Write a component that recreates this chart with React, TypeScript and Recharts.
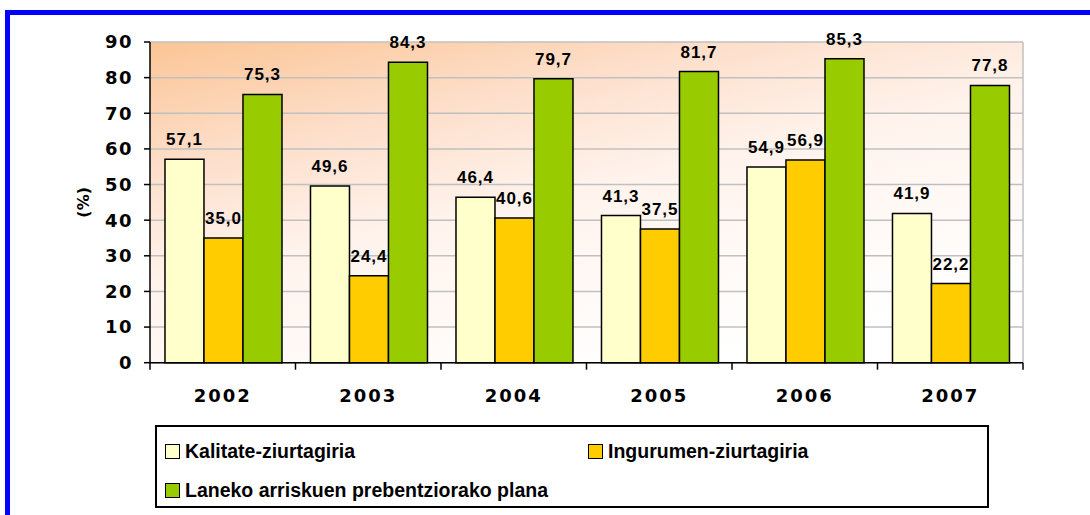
import React from 'react';
import {
  BarChart,
  Bar,
  XAxis,
  YAxis,
  CartesianGrid,
  LabelList,
  Legend,
} from 'recharts';

const years = ['2002', '2003', '2004', '2005', '2006', '2007'];
const kalitate = [57.1, 49.6, 46.4, 41.3, 54.9, 41.9];
const ingurumen = [35.0, 24.4, 40.6, 37.5, 56.9, 22.2];
const laneko = [75.3, 84.3, 79.7, 81.7, 85.3, 77.8];
const yTicks = [0, 10, 20, 30, 40, 50, 60, 70, 80, 90];

const seriesNames = [
  'Kalitate-ziurtagiria',
  'Ingurumen-ziurtagiria',
  'Laneko arriskuen prebentziorako plana',
];

const data = years.map((year, i) => ({
  year,
  kalitate: kalitate[i],
  ingurumen: ingurumen[i],
  laneko: laneko[i],
}));

const W = 1090;
const H = 515;
const PLOT_LEFT = 150;
const PLOT_RIGHT = 1023;
const BAND = (PLOT_RIGHT - PLOT_LEFT) / years.length;

const fmt = (v: any) => Number(v).toFixed(1).replace('.', ',');

const labelStyle = {
  fill: '#000',
  fontFamily: '"Liberation Sans", Arial, sans-serif',
  fontWeight: 700,
  fontSize: 17,
  letterSpacing: 1,
};

function YearTick({ x, y, payload, index }: any) {
  const last = index === years.length - 1;
  return (
    <g>
      <line x1={x - BAND / 2} x2={x - BAND / 2} y1={y} y2={y + 7} stroke="#000" strokeWidth={1.5} />
      {last && (
        <line x1={x + BAND / 2} x2={x + BAND / 2} y1={y} y2={y + 7} stroke="#000" strokeWidth={1.5} />
      )}
      <text
        x={x}
        y={y + 39}
        textAnchor="middle"
        fill="#000"
        fontFamily='"DejaVu Sans", Verdana, sans-serif'
        fontWeight={700}
        fontSize={18}
        letterSpacing={2}
      >
        {payload.value}
      </text>
    </g>
  );
}

function LegendBox({ payload }: any) {
  const items = [...(payload || [])].sort(
    (a: any, b: any) => seriesNames.indexOf(a.value) - seriesNames.indexOf(b.value)
  );
  const pos = [
    { left: 8, top: 13 },
    { left: 431, top: 13 },
    { left: 8, top: 52 },
  ];
  return (
    <div
      style={{
        position: 'relative',
        width: 834,
        height: 83,
        border: '2px solid #000',
        boxSizing: 'border-box',
        background: '#fff',
      }}
    >
      {items.map((it: any, i: number) => (
        <div
          key={it.value}
          style={{
            position: 'absolute',
            left: pos[i].left,
            top: pos[i].top,
            display: 'flex',
            alignItems: 'center',
            whiteSpace: 'nowrap',
          }}
        >
          <span
            style={{
              width: 13,
              height: 13,
              border: '1px solid #000',
              background: it.color,
              display: 'inline-block',
              marginRight: 5,
            }}
          />
          <span
            style={{
              fontFamily: '"Liberation Sans", Arial, sans-serif',
              fontWeight: 700,
              fontSize: 19.5,
              color: '#000',
              lineHeight: '22px',
            }}
          >
            {it.value}
          </span>
        </div>
      ))}
    </div>
  );
}

function PercentLabel({ viewBox }: any) {
  const cx = 84;
  const cy = viewBox.y + viewBox.height / 2;
  return (
    <text
      x={cx}
      y={cy}
      transform={`rotate(-90, ${cx}, ${cy})`}
      textAnchor="middle"
      dominantBaseline="central"
      fill="#000"
      fontFamily='"DejaVu Sans", Verdana, sans-serif'
      fontWeight={700}
      fontSize={16}
    >
      (%)
    </text>
  );
}

export default function App() {
  return (
    <div style={{ position: 'absolute', left: 0, top: 0, width: W, height: H, background: '#fff' }}>
      <div
        style={{
          position: 'absolute',
          left: 5,
          top: 10,
          width: W - 5,
          height: H - 10,
          borderTop: '5px solid #0000FF',
          borderLeft: '5px solid #0000FF',
          boxSizing: 'border-box',
        }}
      />
      <div style={{ position: 'absolute', left: 0, top: 0 }}>
        <BarChart
          width={W}
          height={H}
          data={data}
          margin={{ top: 42, right: W - PLOT_RIGHT, bottom: 112.3, left: 70 }}
          barCategoryGap="10.3%"
          barGap={0}
        >
          <defs>
            <linearGradient id="plotBg" x1="0" y1="0" x2="0.6" y2="1">
              <stop offset="0" stopColor="#FBC595" />
              <stop offset="0.3" stopColor="#FDDFCB" />
              <stop offset="0.55" stopColor="#FFF3EC" />
              <stop offset="1" stopColor="#FFFFFF" />
            </linearGradient>
          </defs>
          <CartesianGrid
            fill="url(#plotBg)"
            fillOpacity={1}
            stroke="#C0C0C0"
            strokeWidth={1.5}
            verticalPoints={[PLOT_RIGHT]}
          />
          <XAxis
            dataKey="year"
            height={40}
            axisLine={{ stroke: '#000', strokeWidth: 1.5 }}
            tickLine={false}
            tickSize={0}
            tickMargin={0}
            tick={<YearTick />}
            interval={0}
          />
          <YAxis
            width={80}
            domain={[0, 90]}
            ticks={yTicks}
            interval={0}
            axisLine={{ stroke: '#000', strokeWidth: 1.5 }}
            tickLine={{ stroke: '#000', strokeWidth: 1.5 }}
            tickSize={6}
            tickMargin={11}
            tick={{
              fill: '#000',
              fontFamily: '"DejaVu Sans", Verdana, sans-serif',
              fontWeight: 700,
              fontSize: 18,
              letterSpacing: 1.5,
            }}
            label={{ content: <PercentLabel /> }}
          />
          <Legend
            layout="horizontal"
            verticalAlign="middle"
            align="center"
            wrapperStyle={{ left: 155, top: 425, width: 834, height: 83 }}
            content={<LegendBox />}
          />
          <Bar
            dataKey="kalitate"
            name={seriesNames[0]}
            fill="#FFFFCC"
            stroke="#000"
            strokeWidth={1.5}
            isAnimationActive={false}
          >
            <LabelList dataKey="kalitate" position="top" offset={14} formatter={fmt} style={labelStyle} />
          </Bar>
          <Bar
            dataKey="ingurumen"
            name={seriesNames[1]}
            fill="#FFCC00"
            stroke="#000"
            strokeWidth={1.5}
            isAnimationActive={false}
          >
            <LabelList dataKey="ingurumen" position="top" offset={14} formatter={fmt} style={labelStyle} />
          </Bar>
          <Bar
            dataKey="laneko"
            name={seriesNames[2]}
            fill="#99CC00"
            stroke="#000"
            strokeWidth={1.5}
            isAnimationActive={false}
          >
            <LabelList dataKey="laneko" position="top" offset={14} formatter={fmt} style={labelStyle} />
          </Bar>
        </BarChart>
      </div>
    </div>
  );
}
